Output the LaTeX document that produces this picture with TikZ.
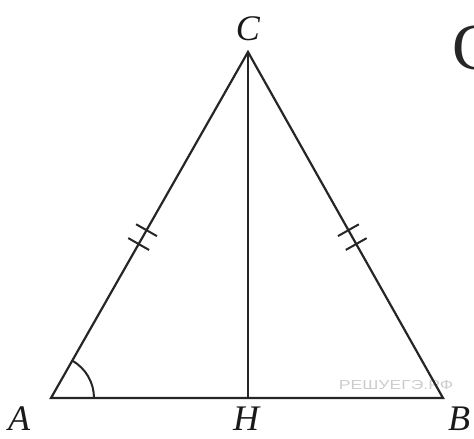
\documentclass[tikz,border=0pt]{standalone}
\usepackage{fontspec}
\setmainfont{Liberation Serif}
\newfontfamily\wmfont{Liberation Sans}
\usetikzlibrary{calc}
\begin{document}
\begin{tikzpicture}[x=1pt,y=-1pt,
  side/.style={line width=2.2pt, black!85, line cap=round},
  tick/.style={line width=2pt, black!85},
  lbl/.style={font=\fontsize{36}{38}\selectfont\itshape, inner sep=0pt, text=black!90}]
\useasboundingbox (0,0) rectangle (474,439);
\clip (0,0) rectangle (474,439);
% watermark
\node[font=\wmfont\fontsize{13}{14}\selectfont, text=black!20, xscale=1.35, inner sep=0pt] (wm) at (396,385) {РЕШУЕГЭ.РФ};
% vertices
\coordinate (A) at (51,398);
\coordinate (B) at (443,398);
\coordinate (C) at (248,52);
\coordinate (H) at (248,398);
% triangle and altitude
\draw[side] (A) -- (B) -- (C) -- cycle;
\draw[side] (C) -- (H);
% angle arc at A
\draw[tick] ([shift={(0:43)}]A) arc[start angle=0, end angle=-60.5, radius=43];
% double ticks on AC
\path (A) -- (C) coordinate[pos=0.445] (t1) coordinate[pos=0.485] (t2);
\draw[tick] ($(t1)!12pt!90:(C)$) -- ($(t1)!12pt!-90:(C)$);
\draw[tick] ($(t2)!12pt!90:(C)$) -- ($(t2)!12pt!-90:(C)$);
% double ticks on BC
\path (B) -- (C) coordinate[pos=0.445] (s1) coordinate[pos=0.485] (s2);
\draw[tick] ($(s1)!12pt!90:(C)$) -- ($(s1)!12pt!-90:(C)$);
\draw[tick] ($(s2)!12pt!90:(C)$) -- ($(s2)!12pt!-90:(C)$);
% labels
\node[lbl] (lC) at (248,29) {C};
\node[lbl] (lA) at (19,419) {A};
\node[lbl] (lH) at (246,419) {H};
\node[lbl] (lB) at (459,419) {B};
% partial large letter at top right
\node[font=\fontsize{66}{70}\selectfont, inner sep=0pt, anchor=base west, text=black!85] (big) at (452,69) {C};
\end{tikzpicture}
\end{document}
